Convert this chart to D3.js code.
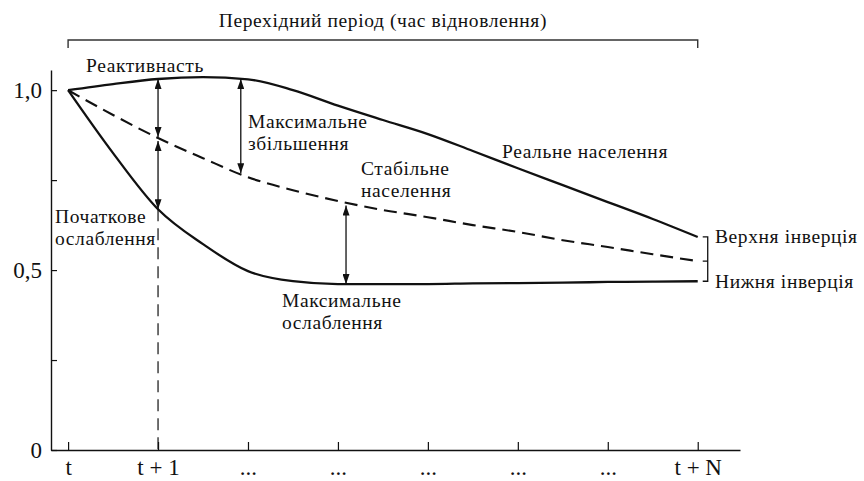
<!DOCTYPE html>
<html>
<head>
<meta charset="utf-8">
<script src="https://cdn.jsdelivr.net/npm/d3@7"></script>
<style>
  body { margin: 0; background: #fff; }
  svg text { font-family: "Liberation Serif", "DejaVu Serif", serif; fill: #111; }
</style>
</head>
<body>
<div id="chart"></div>
<script>
// x positions (time steps), t = 0 ... t + N = 7
const steps = [0, 0.5, 1, 1.5, 2, 2.5, 3, 3.5, 4, 4.5, 5, 5.5, 6, 6.5, 7];
// real population (upper curve, with reactivity)
const realUpper = [1.000, 1.017, 1.031, 1.036, 1.030, 1.000, 0.957, 0.917, 0.878, 0.831, 0.783, 0.736, 0.689, 0.642, 0.592];
// stable population (dashed)
const stable = [1.000, 0.931, 0.867, 0.811, 0.758, 0.722, 0.692, 0.667, 0.647, 0.625, 0.606, 0.583, 0.564, 0.544, 0.525];
// lower curve (attenuation)
const realLower = [1.000, 0.825, 0.669, 0.572, 0.497, 0.469, 0.461, 0.461, 0.461, 0.463, 0.464, 0.465, 0.467, 0.468, 0.469];

const xTicks = [0, 1, 2, 3, 4, 5, 6, 7];
const xLabels = ["t", "t + 1", "...", "...", "...", "...", "...", "t + N"];
const yTicks = [0, 0.25, 0.5, 0.75, 1.0];
const yLabels = ["0", "", "0,5", "", "1,0"];

// arrows: [x step, from series, to series]
const arrows = [
  [1, "stable", "realUpper"],
  [1, "stable", "realLower"],
  [1.92, "stable", "realUpper"],
  [3.09, "stable", "realLower"]
];
const series = { realUpper, stable, realLower };

const width = 864, height = 481;

const svg = d3.select("#chart").append("svg")
  .attr("width", width)
  .attr("height", height);

const x = d3.scaleLinear().domain([-0.19, 7.47]).range([51, 740]);
const y = d3.scaleLinear().domain([0, 1.056]).range([450, 70]);

// arrow head
svg.append("defs").append("marker")
  .attr("id", "head")
  .attr("viewBox", "0 0 10 7")
  .attr("refX", 10)
  .attr("refY", 3.5)
  .attr("markerWidth", 10)
  .attr("markerHeight", 7)
  .attr("markerUnits", "userSpaceOnUse")
  .attr("orient", "auto-start-reverse")
  .append("path")
  .attr("d", "M0,0 L10,3.5 L0,7 z")
  .attr("fill", "#111");

// axes
const xAxis = svg.append("g")
  .attr("transform", `translate(0,${y(0)})`)
  .call(d3.axisBottom(x).tickValues(xTicks).tickSizeInner(-8).tickSizeOuter(0)
    .tickPadding(9).tickFormat((d, i) => xLabels[i]));
xAxis.selectAll("text").style("font-size", "23px")
  .style("font-family", "'Liberation Serif', serif").attr("fill", "#111");
xAxis.select(".domain").attr("stroke", "#111").attr("stroke-width", 1.4);
xAxis.selectAll(".tick line").attr("stroke", "#111").attr("stroke-width", 1.2);

const yAxis = svg.append("g")
  .attr("transform", `translate(${x.range()[0]},0)`)
  .call(d3.axisLeft(y).tickValues(yTicks).tickSizeInner(-6).tickSizeOuter(0)
    .tickPadding(9).tickFormat((d, i) => yLabels[i]));
yAxis.selectAll("text").style("font-size", "23px")
  .style("font-family", "'Liberation Serif', serif").attr("fill", "#111");
yAxis.select(".domain").attr("stroke", "#111").attr("stroke-width", 1.4);
yAxis.selectAll(".tick line").attr("stroke", "#111").attr("stroke-width", 1.2);

// top bracket: transition period
const bx0 = x(0), bx1 = x(7), by = 40;
svg.append("path")
  .attr("d", `M${bx0},${by + 8} V${by} H${bx1} V${by + 8}`)
  .attr("fill", "none").attr("stroke", "#333").attr("stroke-width", 1.4);
svg.append("text")
  .attr("x", (bx0 + bx1) / 2).attr("y", 27)
  .attr("text-anchor", "middle").style("font-size", "19.5px")
  .style("letter-spacing", "0.6px")
  .text("Перехідний період (час відновлення)");

// curves
const line = d3.line()
  .x((d, i) => x(steps[i]))
  .y(d => y(d))
  .curve(d3.curveMonotoneX);

svg.append("path").datum(realUpper)
  .attr("d", line).attr("fill", "none").attr("stroke", "#111").attr("stroke-width", 2.3);
svg.append("path").datum(realLower)
  .attr("d", line).attr("fill", "none").attr("stroke", "#111").attr("stroke-width", 2.3);
svg.append("path").datum(stable)
  .attr("d", line).attr("fill", "none").attr("stroke", "#111").attr("stroke-width", 2.1)
  .attr("stroke-dasharray", "13,7");

function valueAt(arr, s) {
  const i = Math.min(steps.length - 2, Math.max(0, d3.bisectRight(steps, s) - 1));
  const t = (s - steps[i]) / (steps[i + 1] - steps[i]);
  return arr[i] + t * (arr[i + 1] - arr[i]);
}

// dashed vertical at t + 1
svg.append("line")
  .attr("x1", x(1)).attr("x2", x(1))
  .attr("y1", y(valueAt(realLower, 1))).attr("y2", y(0))
  .attr("stroke", "#111").attr("stroke-width", 1.2)
  .attr("stroke-dasharray", "12,7");

// double-headed arrows
svg.selectAll(".arrow").data(arrows).enter().append("line")
  .attr("class", "arrow")
  .attr("x1", d => x(d[0])).attr("x2", d => x(d[0]))
  .attr("y1", d => y(valueAt(series[d[1]], d[0])) + (d[2] === "realUpper" ? -1 : 3))
  .attr("y2", d => y(valueAt(series[d[2]], d[0])))
  .attr("stroke", "#111").attr("stroke-width", 1.3)
  .attr("marker-start", "url(#head)")
  .attr("marker-end", "url(#head)");

// right braces
const ex = x(7) + 10;
const yU = y(realUpper[realUpper.length - 1]);
const yS = y(stable[stable.length - 1]);
const yL = y(realLower[realLower.length - 1]);
svg.append("path")
  .attr("d", `M${ex - 5},${yU} H${ex} V${yL} H${ex - 5} M${ex - 5},${yS} H${ex}`)
  .attr("fill", "none").attr("stroke", "#111").attr("stroke-width", 1.3);

// annotations
const notes = [
  { x: 86, y: 72, lines: ["Реактивнасть"] },
  { x: 248, y: 128, lines: ["Максимальне", "збільшення"] },
  { x: 361, y: 175, lines: ["Стабільне", "населення"] },
  { x: 55, y: 223, lines: ["Початкове", "ослаблення"] },
  { x: 282, y: 307, lines: ["Максимальне", "ослаблення"] },
  { x: 502, y: 158, lines: ["Реальне населення"] },
  { x: 715, y: 243, lines: ["Верхня інверція"] },
  { x: 715, y: 288, lines: ["Нижня інверція"] }
];
notes.forEach(n => {
  const t = svg.append("text").attr("x", n.x).attr("y", n.y)
    .style("font-size", "19.5px").style("letter-spacing", "0.6px");
  n.lines.forEach((s, i) => {
    t.append("tspan").attr("x", n.x).attr("dy", i === 0 ? 0 : 22).text(s);
  });
});
</script>
</body>
</html>
